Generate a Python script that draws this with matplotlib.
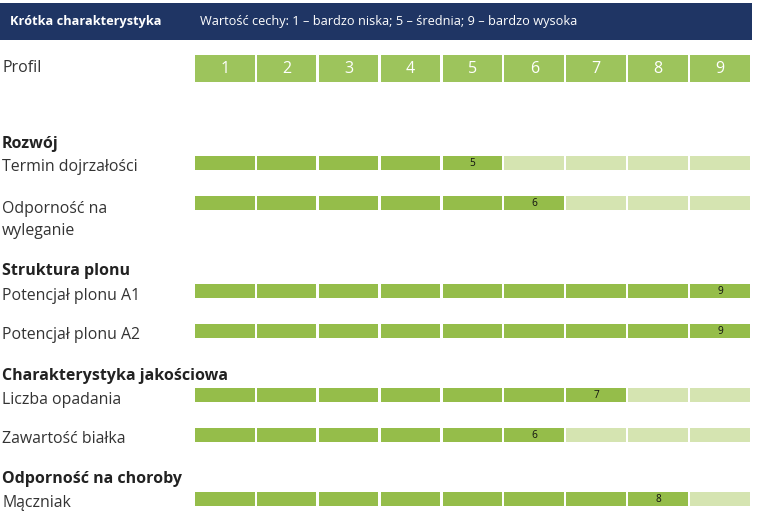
import matplotlib
matplotlib.use("Agg")
import matplotlib.pyplot as plt
from matplotlib.patches import Rectangle

# ---- data ----
header_title = "Krótka charakterystyka"
header_note = "Wartość cechy: 1 – bardzo niska; 5 – średnia; 9 – bardzo wysoka"
profile_label = "Profil"
scale = [1, 2, 3, 4, 5, 6, 7, 8, 9]
groups = ["Rozwój", "Struktura plonu", "Charakterystyka jakościowa", "Odporność na choroby"]
traits = ["Termin dojrzałości", "Odporność na\nwyleganie",
          "Potencjał plonu A1", "Potencjał plonu A2",
          "Liczba opadania", "Zawartość białka", "Mączniak"]
trait_group = [0, 0, 1, 1, 2, 2, 3]
values = [5, 6, 9, 9, 7, 6, 8]

# ---- layout (pixels) ----
W, H = 757, 517
x0, x1 = 195, 752
cell_w = (x1 - x0) / len(scale)
gap = 2.3
bar_tops = [156, 196, 284, 324, 388, 428, 492]
bar_h = 14
group_y = [144, 271, 376, 479]
label_y = [167, 220, 296, 335, 400, 439, 503]

dark = "#95bd4a"
light = "#d5e4b1"
prof_col = "#9dc45c"
navy = "#1f3564"
txt = "#333333"

plt.rcParams['font.family'] = ['Open Sans', 'DejaVu Sans']
fig = plt.figure(figsize=(W / 100, H / 100), dpi=100)
ax = fig.add_axes([0, 0, 1, 1])
ax.set_xlim(0, W)
ax.set_ylim(H, 0)
ax.axis("off")

# header
ax.add_patch(Rectangle((0, 3), 752, 37, color=navy, lw=0))
ax.text(10, 21.5, header_title, color="white", fontsize=9.2, fontweight="bold", va="center")
ax.text(200, 21.5, header_note, color="white", fontsize=9.2, va="center")

# profile row
ax.text(2, 68, profile_label, color=txt, fontsize=11.5, va="center")
lefts = [x0 + (s - 1) * cell_w for s in scale]
ax.barh([68.5] * len(scale), [cell_w - gap] * len(scale), left=lefts, height=27.5,
        color=prof_col, lw=0)
for s, l in zip(scale, lefts):
    ax.text(l + (cell_w - gap) / 2, 69, str(s), color="white", fontsize=11.5,
            ha="center", va="center")

# groups
for g, gy in zip(groups, group_y):
    ax.text(2, gy, g, color="#222222", fontsize=11.5, fontweight="bold", va="center")

# traits
for name, v, top, ly in zip(traits, values, bar_tops, label_y):
    ax.text(2, ly, name, color=txt, fontsize=11.4, va="center", linespacing=1.5)
    cols = [dark if s <= v else light for s in scale]
    yc = top + bar_h / 2
    ax.barh([yc] * len(scale), [cell_w - gap] * len(scale), left=lefts, height=bar_h,
            color=cols, lw=0)
    ax.text(lefts[v - 1] + (cell_w - gap) / 2, yc, str(v), color="#111111",
            fontsize=7.3, ha="center", va="center")

fig.savefig("out.png", dpi=100, facecolor="white")
